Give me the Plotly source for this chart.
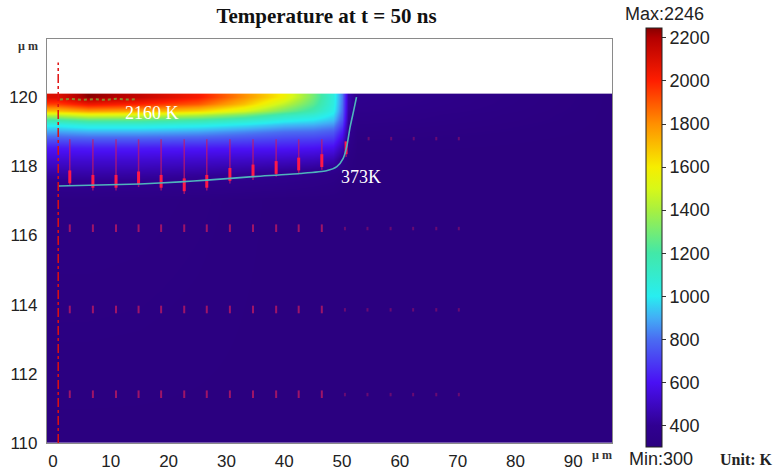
import plotly.graph_objects as go

# ---------------- data ----------------
# temperature field nodes (µm) and values (K)
hm_x = [0.9, 6, 15, 25, 33, 40, 45, 48.5, 50, 51, 52.5, 96.7]
hm_y = [110, 117.0, 117.46, 117.75, 118.18, 118.53, 118.76, 118.99, 119.19,
        119.34, 119.48, 119.62, 119.8, 120]
hm_z = [
    [300, 300, 300, 300, 300, 300, 300, 300, 300, 300, 300, 300],
    [320, 320, 318, 312, 305, 300, 300, 300, 300, 300, 300, 300],
    [373, 376, 373, 365, 355, 345, 335, 325, 310, 300, 300, 300],
    [430, 435, 430, 415, 395, 375, 360, 345, 325, 305, 300, 300],
    [530, 530, 530, 520, 510, 500, 485, 460, 380, 320, 300, 300],
    [620, 625, 625, 620, 615, 610, 600, 580, 470, 350, 305, 300],
    [740, 750, 750, 740, 720, 700, 690, 670, 540, 370, 310, 300],
    [880, 900, 900, 880, 840, 800, 790, 760, 620, 390, 320, 300],
    [1020, 1060, 1060, 1030, 980, 920, 900, 860, 700, 410, 330, 300],
    [1200, 1260, 1250, 1200, 1120, 1030, 990, 930, 750, 425, 340, 300],
    [1450, 1520, 1500, 1420, 1300, 1150, 1080, 980, 780, 435, 345, 300],
    [1700, 1780, 1750, 1660, 1500, 1300, 1170, 1020, 800, 445, 355, 300],
    [1950, 2050, 2000, 1900, 1700, 1450, 1250, 1045, 815, 455, 365, 300],
    [2100, 2246, 2160, 2020, 1800, 1580, 1300, 1055, 825, 460, 370, 300],
]

# 373 K isotherm
contour_x = [1.0, 8, 15, 22, 26.6, 34.6, 42.7, 47.3, 49.1, 50.2, 50.8, 51.4, 52.0, 52.5]
contour_y = [117.43, 117.46, 117.49, 117.55, 117.6, 117.7, 117.79, 117.87, 117.99,
             118.23, 118.56, 119.14, 119.6, 120.0]

# 2160 K isotherm at the surface (dotted)
hot_x = [1.2, 3, 5, 7, 9, 11, 13, 14.5]
hot_y = [119.93, 119.95, 119.92, 119.94, 119.92, 119.95, 119.93, 119.94]

# velocity arrows (main row)
arrow_x = [2.9, 6.9, 10.9, 14.8, 18.7, 22.7, 26.6, 30.6, 34.6, 38.6, 42.5, 46.5, 50.7]
arrow_top = [118.78, 118.78, 118.78, 118.78, 118.78, 118.78, 118.78, 118.78, 118.78,
             118.78, 118.78, 118.78, 118.68]
arrow_tip = [117.43, 117.3, 117.3, 117.4, 117.3, 117.2, 117.3, 117.5, 117.6, 117.7,
             117.8, 117.9, 118.27]

# small arrows in lower rows
small_rows_y = [116.2, 113.85, 111.4]
small_x = [2.9, 6.9, 10.9, 14.8, 18.7, 22.7, 26.6, 30.6, 34.6, 38.6, 42.5, 46.5]
faint_x = [50.5, 54.4, 58.4, 62.3, 66.3, 70.2]
surf_dots_x = [54.6, 58.5, 62.4, 66.3, 70.2]
surf_dots_y = 118.8

# symmetry axis
axis_x = [0.9, 0.9]
axis_y = [110, 121.0]

# colour scale (temperature, colour)
cs_T = [300, 400, 600, 800, 900, 1000, 1200, 1400, 1500, 1600, 1800, 2000, 2200, 2246]
cs_c = ["#2b0080", "#300092", "#4a10f4", "#4a6cf2", "#42aef6", "#28eef0", "#42e8a8",
        "#a8f040", "#d8f818", "#f6ee00", "#ff9000", "#ff1e00", "#b40000", "#880000"]
tmin, tmax = 300, 2246
cb_ticks = [400, 600, 800, 1000, 1200, 1400, 1600, 1800, 2000, 2200]
x_ticks = [0, 10, 20, 30, 40, 50, 60, 70, 80, 90]
y_ticks = [110, 112, 114, 116, 118, 120]

# ---------------- figure ----------------
W, H = 778, 472
L, T, PW, PH = 47, 39, 565, 404


def px(xp):
    return (xp - L) / PW


def py(yp):
    return (T + PH - yp) / PH


colorscale = [[(t - tmin) / (tmax - tmin), c] for t, c in zip(cs_T, cs_c)]

fig = go.Figure()
fig.add_trace(go.Heatmap(
    x=hm_x, y=hm_y, z=hm_z, zsmooth="best", colorscale=colorscale,
    zmin=tmin, zmax=tmax, hoverinfo="skip",
    colorbar=dict(
        x=px(646), xanchor="left", xpad=0, ypad=0,
        y=py(237.5), yanchor="middle", lenmode="pixels", len=419,
        thicknessmode="pixels", thickness=16,
        outlinecolor="#222", outlinewidth=1,
        tickvals=cb_ticks, ticks="outside", ticklen=4, tickcolor="#333",
        tickfont=dict(family="Liberation Sans, Arial", size=18, color="#222"),
    ),
))

# main arrows: thin tail + thick head
tx, ty, hx, hy = [], [], [], []
for x, t, b in zip(arrow_x, arrow_top, arrow_tip):
    tx += [x, x, None]
    ty += [t, b, None]
    hx += [x, x, None]
    hy += [b + 0.45, b + 0.08, None]
fig.add_trace(go.Scatter(x=tx, y=ty, mode="lines",
                         line=dict(color="rgba(200,25,100,0.7)", width=1.5),
                         hoverinfo="skip", showlegend=False))
fig.add_trace(go.Scatter(x=hx, y=hy, mode="lines",
                         line=dict(color="#ff1848", width=3),
                         hoverinfo="skip", showlegend=False))

# small arrows
sx, sy = [], []
for ry in small_rows_y:
    for x in small_x:
        sx += [x, x, None]
        sy += [ry + 0.12, ry - 0.1, None]
fig.add_trace(go.Scatter(x=sx, y=sy, mode="lines",
                         line=dict(color="rgba(220,30,90,0.65)", width=2),
                         hoverinfo="skip", showlegend=False))
fx, fy = [], []
for ry in small_rows_y:
    for x in faint_x:
        fx += [x, x, None]
        fy += [ry + 0.05, ry - 0.05, None]
for x in surf_dots_x:
    fx += [x, x, None]
    fy += [surf_dots_y + 0.05, surf_dots_y - 0.05, None]
fig.add_trace(go.Scatter(x=fx, y=fy, mode="lines",
                         line=dict(color="rgba(220,30,90,0.35)", width=2),
                         hoverinfo="skip", showlegend=False))

# isotherms
fig.add_trace(go.Scatter(x=contour_x, y=contour_y, mode="lines",
                         line=dict(color="#4fb4bc", width=1.6, shape="spline", smoothing=0.6),
                         hoverinfo="skip", showlegend=False))
fig.add_trace(go.Scatter(x=hot_x, y=hot_y, mode="lines",
                         line=dict(color="#8c8a2a", width=2, dash="dot"),
                         hoverinfo="skip", showlegend=False))

# symmetry axis
fig.add_trace(go.Scatter(x=axis_x, y=axis_y, mode="lines",
                         line=dict(color="#e01010", width=1.5, dash="dashdot"),
                         hoverinfo="skip", showlegend=False))

serif = "Liberation Serif, Times New Roman, serif"
sans = "Liberation Sans, Arial, sans-serif"

fig.update_layout(
    width=W, height=H,
    margin=dict(l=L, r=W - L - PW, t=T, b=H - T - PH, autoexpand=False),
    paper_bgcolor="white", plot_bgcolor="white",
    showlegend=False,
    title=dict(text="<b>Temperature at t = 50 ns</b>", x=326.5 / W, xanchor="center",
               y=1 - 16 / H, yanchor="middle",
               font=dict(family=serif, size=21, color="#111")),
    xaxis=dict(range=[-1.04, 96.7], tickvals=x_ticks, showgrid=False, zeroline=False,
               showline=True, mirror=True, linecolor="#8a8a8a", linewidth=1.2,
               ticks="outside", ticklen=2, tickcolor="rgba(0,0,0,0)",
               tickfont=dict(family=sans, size=17, color="#222")),
    yaxis=dict(range=[110, 121.68], tickvals=y_ticks, showgrid=False, zeroline=False,
               showline=True, mirror=True, linecolor="#8a8a8a", linewidth=1.2,
               ticks="outside", ticklen=5, tickcolor="rgba(0,0,0,0)",
               tickfont=dict(family=sans, size=17, color="#222")),
)

ann = [
    dict(text="2160 K", x=17.2, y=119.55, xref="x", yref="y",
         font=dict(family=serif, size=18, color="white")),
    dict(text="373K", x=53.3, y=117.70, xref="x", yref="y",
         font=dict(family=serif, size=18, color="white")),
    dict(text="Max:2246", x=px(664), y=py(14), xref="paper", yref="paper",
         font=dict(family=sans, size=18, color="#222")),
    dict(text="Min:300", x=px(661), y=py(459), xref="paper", yref="paper",
         font=dict(family=sans, size=18, color="#222")),
    dict(text="<b>Unit: K</b>", x=px(746), y=py(459), xref="paper", yref="paper",
         font=dict(family=serif, size=16, color="#222")),
    dict(text="<b>µ m</b>", x=px(28), y=py(46), xref="paper", yref="paper",
         font=dict(family=serif, size=12, color="#333")),
    dict(text="<b>µ m</b>", x=px(602), y=py(455), xref="paper", yref="paper",
         font=dict(family=serif, size=12, color="#333")),
]
for a in ann:
    a.update(showarrow=False, xanchor="center", yanchor="middle")
    fig.add_annotation(**a)

fig.write_html("out.html", config={"displayModeBar": False},
               post_script="document.body.style.margin='0';")
